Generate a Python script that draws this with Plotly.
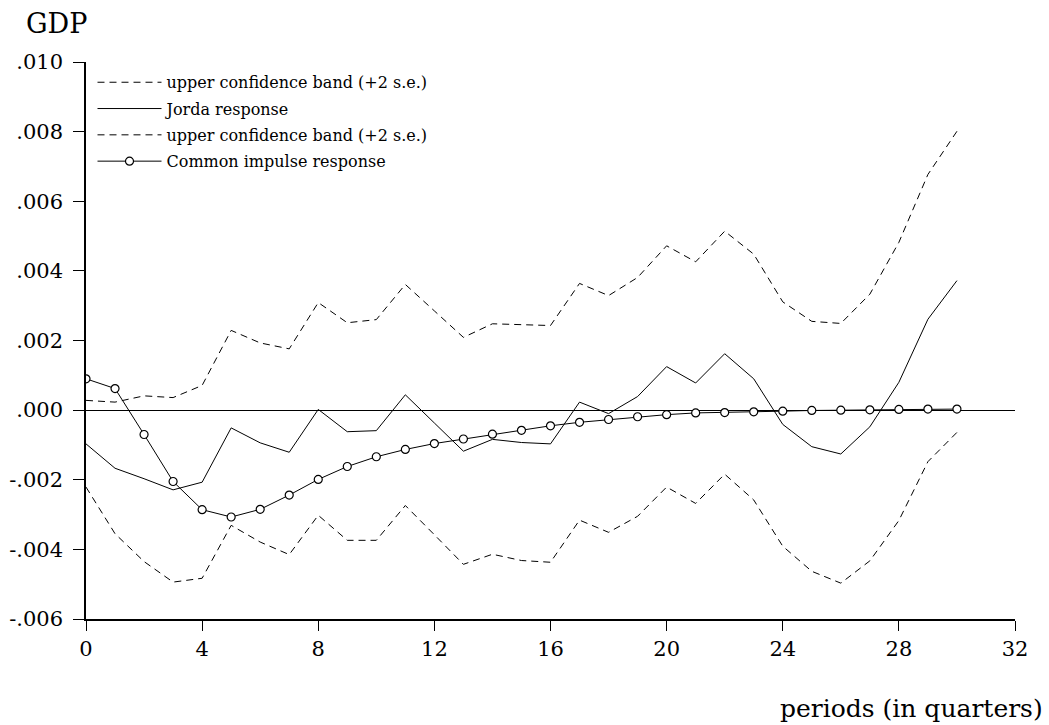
import plotly.graph_objects as go

# Horizon in quarters
periods = list(range(0, 31))

# Local-projection (Jorda) response of GDP and its +/-2 s.e. bands
jorda = [-0.00097, -0.00167, -0.00197, -0.00229, -0.00207, -0.00051, -0.00094, -0.00121,
         0.00002, -0.00062, -0.00059, 0.00044, -0.00037, -0.00118, -0.00084, -0.00093,
         -0.00097, 0.00023, -0.00010, 0.00039, 0.00125, 0.00078, 0.00162, 0.00090,
         -0.00041, -0.00105, -0.00126, -0.00048, 0.00080, 0.00261, 0.00372]
upper_band = [0.00028, 0.00023, 0.00041, 0.00036, 0.00071, 0.00229, 0.00193, 0.00176,
              0.00309, 0.00251, 0.00260, 0.00361, 0.00285, 0.00209, 0.00248, 0.00245,
              0.00243, 0.00364, 0.00329, 0.00381, 0.00472, 0.00426, 0.00514, 0.00448,
              0.00311, 0.00255, 0.00249, 0.00333, 0.00482, 0.00677, 0.00801]
lower_band = [-0.00221, -0.00355, -0.00435, -0.00494, -0.00483, -0.00331, -0.00379, -0.00415,
              -0.00302, -0.00374, -0.00374, -0.00274, -0.00358, -0.00443, -0.00414, -0.00432,
              -0.00437, -0.00316, -0.00351, -0.00305, -0.00221, -0.00268, -0.00184, -0.00258,
              -0.00391, -0.00463, -0.00497, -0.00433, -0.00317, -0.00148, -0.00064]

# Common impulse response
common = [0.00090, 0.00062, -0.00070, -0.00205, -0.00286, -0.00307, -0.00285, -0.00244,
          -0.00199, -0.00162, -0.00134, -0.00113, -0.00096, -0.00083, -0.00069, -0.00058,
          -0.00045, -0.00035, -0.00027, -0.00019, -0.00013, -0.00008, -0.00007, -0.00005,
          -0.00003, -0.00001, 0.00000, 0.00001, 0.00002, 0.00003, 0.00003]

# Axis ticks
x_ticks = [0, 4, 8, 12, 16, 20, 24, 28, 32]
y_ticks = [-0.006, -0.004, -0.002, 0.000, 0.002, 0.004, 0.006, 0.008, 0.010]
y_tick_text = ["-.006", "-.004", "-.002", ".000", ".002", ".004", ".006", ".008", ".010"]

FONT = "DejaVu Serif"
DASH = "7px,5px"

fig = go.Figure()
fig.add_trace(go.Scatter(x=periods, y=upper_band, mode="lines",
                         name="upper confidence band (+2 s.e.)", legendgroup="a",
                         line=dict(color="black", width=1, dash=DASH)))
fig.add_trace(go.Scatter(x=periods, y=jorda, mode="lines",
                         name="Jorda response", legendgroup="b",
                         line=dict(color="black", width=1)))
fig.add_trace(go.Scatter(x=periods, y=lower_band, mode="lines",
                         name="upper confidence band (+2 s.e.)", legendgroup="c",
                         line=dict(color="black", width=1, dash=DASH)))
fig.add_trace(go.Scatter(x=periods, y=common, mode="lines+markers",
                         name="Common impulse response", legendgroup="d",
                         line=dict(color="black", width=1),
                         marker=dict(symbol="circle", size=8, color="white",
                                     line=dict(color="black", width=1.2))))

fig.update_layout(
    width=1049, height=725,
    margin=dict(l=86, r=34, t=62, b=106),
    paper_bgcolor="white", plot_bgcolor="white",
    font=dict(family=FONT, color="black", size=21),
    showlegend=True,
    legend=dict(x=0.007, y=0.994, xanchor="left", yanchor="top",
                bgcolor="rgba(0,0,0,0)", font=dict(size=16, family=FONT),
                itemwidth=64, tracegroupgap=2.5, traceorder="grouped"),
    xaxis=dict(range=[0, 32], tickvals=x_ticks, showgrid=False, zeroline=False,
               showline=True, linecolor="black", linewidth=1.5, automargin=False,
               ticks="outside", ticklen=10, tickcolor="black", tickwidth=1,
               tickfont=dict(size=21, family=FONT)),
    yaxis=dict(range=[-0.006, 0.010], tickvals=y_ticks, ticktext=y_tick_text,
               showgrid=False, zeroline=True, zerolinecolor="black", zerolinewidth=1,
               showline=True, linecolor="black", linewidth=1.5, automargin=False,
               ticks="outside", ticklen=11, tickcolor="black", tickwidth=1,
               ticklabelstandoff=6,
               tickfont=dict(size=21, family=FONT)),
    annotations=[
        dict(text="GDP", xref="paper", yref="paper", x=-0.067, y=1.07,
             xanchor="left", yanchor="middle", showarrow=False,
             font=dict(size=27, family=FONT)),
        dict(text="periods (in quarters)", xref="paper", yref="paper", x=1.032, y=-0.161,
             xanchor="right", yanchor="middle", showarrow=False,
             font=dict(size=25, family=FONT)),
    ],
)

fig.write_html("out.html")
